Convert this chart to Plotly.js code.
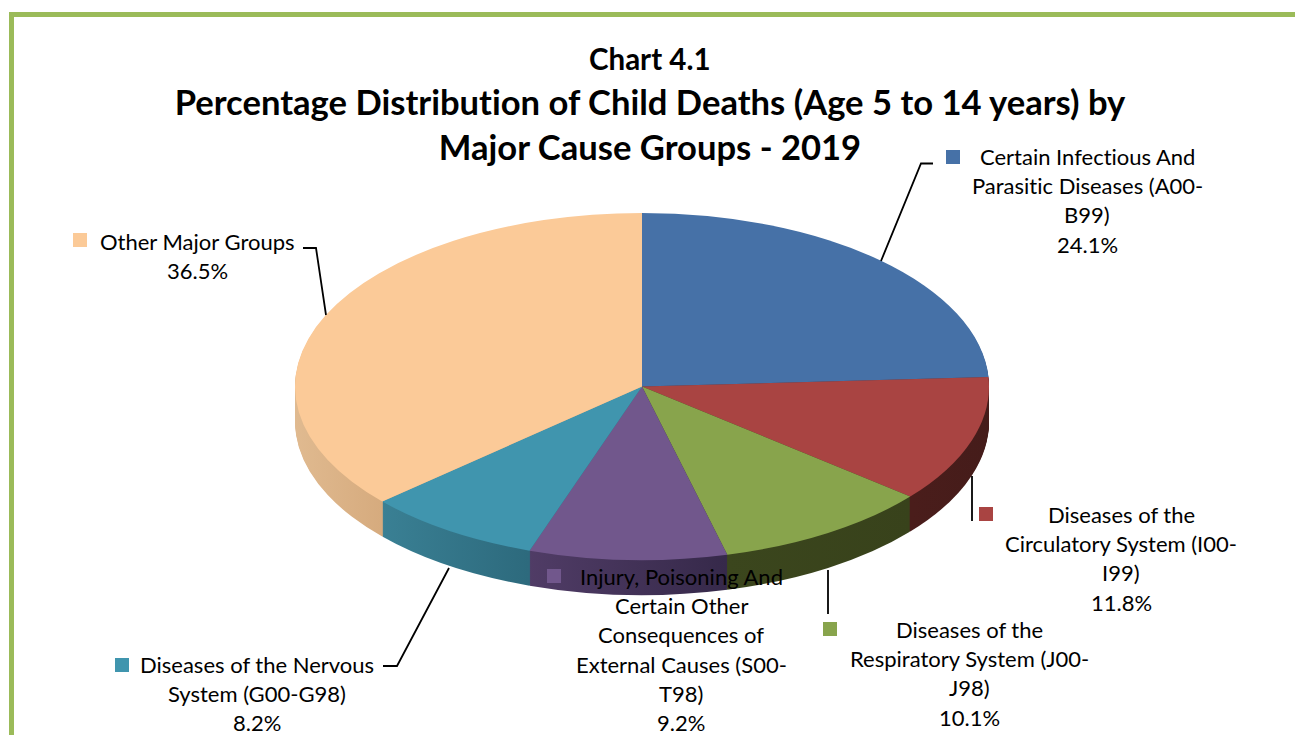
<!DOCTYPE html>
<html>
<head>
<meta charset="utf-8">
<script src="https://cdn.plot.ly/plotly-3.0.1.min.js"></script>
<style>html,body{margin:0;padding:0;background:#fff;overflow:hidden}#chart{width:1295px;height:735px}
svg text{font-variant-ligatures:none;font-feature-settings:"liga" 0}</style>
</head>
<body>
<div id="chart"></div>
<script>
// ---- data ----
const categories = [
  "Certain Infectious And Parasitic Diseases (A00-B99)",
  "Diseases of the Circulatory System (I00-I99)",
  "Diseases of the Respiratory System (J00-J98)",
  "Injury, Poisoning And Certain Other Consequences of External Causes (S00-T98)",
  "Diseases of the Nervous System (G00-G98)",
  "Other Major Groups"
];
const shares = [24.1, 11.8, 10.1, 9.2, 8.2, 36.5];
const wrappedNames = [
  ["Certain Infectious And", "Parasitic Diseases (A00-", "B99)"],
  ["Diseases of the", "Circulatory System (I00-", "I99)"],
  ["Diseases of the", "Respiratory System (J00-", "J98)"],
  ["Injury, Poisoning And", "Certain Other", "Consequences of", "External Causes (S00-", "T98)"],
  ["Diseases of the Nervous", "System (G00-G98)"],
  ["Other Major Groups"]
];
const titleLine = "Chart 4.1";
const titleMain = "Percentage Distribution of Child Deaths (Age 5 to 14 years) by<br>Major Cause Groups - 2019";

// ---- styles ----
const topColors = ["#4671a7", "#a94442", "#88a44c", "#71578c", "#4095ae", "#fbca98"];
const sideStops = [
  ["#2c4668", "#2c4668"],
  ["#4a1d1b", "#451c1a"],
  ["#3b461d", "#38421b"],
  ["#503c66", "#36294a"],
  ["#3a8094", "#2d6a7d"],
  ["#e0ba90", "#d6ab7e"]
];
const sideRange = [[0, 1], [0.89, 1], [0.62, 0.89], [0.336, 0.62], [0.124, 0.336], [0, 0.124]];
const FONT = "Lato, Carlito, Calibri, sans-serif";
const W = 1295, H = 735;
const CX = 642, CY = 386.5, RX = 347, SQUASH = 0.5, DEPTH = 35;

// label layout, in page pixels
const labelCenters = [1087, 1121, 969, 681, 257, 198];
const labelFirstY = [156.3, 514.3, 629.3, 576.3, 664.3, 241.3];
const LINE_STEP = 29.3;
const keyBoxes = [[946, 150], [979, 507], [823, 622], [547, 569], [115, 658], [73, 233]];
const KEY = 14;
const leaders = [
  [[933, 163.5], [921, 163.5], [881, 261]],
  [[972, 476], [972, 521]],
  [[828, 570], [828, 614]],
  [[449, 568], [397, 666], [383, 666]],
  [[303, 248], [316, 248], [326, 315]]
];

const px = x => x / W;
const py = y => 1 - y / H;

// ---- pie stack: the side wall is many darker copies of the same pie ----
const domain = {x: [px(CX - RX), px(CX + RX)], y: [(H / 2 - RX) / H, (H / 2 + RX) / H]};
const pieBase = {
  type: "pie", values: shares, labels: categories, sort: false, direction: "clockwise",
  rotation: 0, textinfo: "none", hoverinfo: "label+percent", showlegend: false, domain: domain
};
const offsets = [];
for (let d = DEPTH; d >= 0; d--) offsets.push(d);
const traces = offsets.map(d => Object.assign({}, pieBase, {
  marker: {colors: d === 0 ? topColors : sideStops.map(s => s[1]), line: {width: 0}}
}));

// ---- text ----
const annotations = [];
const textAt = (x, y, text, size, bold) => annotations.push({
  xref: "paper", yref: "paper", x: px(x), y: py(y), xanchor: "center", yanchor: "middle",
  text: bold ? "<b>" + text + "</b>" : text, showarrow: false,
  font: {family: FONT, size: size, color: "#000"}
});
textAt(650, 58, titleLine, 29.5, true);
wrappedNames.forEach((lines, i) => {
  const all = lines.concat([shares[i].toFixed(1) + "%"]);
  all.forEach((t, k) => textAt(labelCenters[i], labelFirstY[i] + k * LINE_STEP, t, 22, false));
});

// ---- frame, legend keys, leader lines ----
const shapes = [{
  type: "rect", xref: "paper", yref: "paper", x0: px(11.5), x1: px(1320), y0: py(14.5), y1: py(760),
  line: {color: "#9bbb59", width: 5}, fillcolor: "rgba(0,0,0,0)", layer: "above"
}];
keyBoxes.forEach((k, i) => shapes.push({
  type: "rect", xref: "paper", yref: "paper", x0: px(k[0]), x1: px(k[0] + KEY), y0: py(k[1]), y1: py(k[1] + KEY),
  fillcolor: topColors[i], line: {width: 0}, layer: "above"
}));
leaders.forEach(pts => shapes.push({
  type: "path", xref: "paper", yref: "paper",
  path: pts.map((p, j) => (j ? "L" : "M") + px(p[0]) + "," + py(p[1])).join(" "),
  line: {color: "#000", width: 1.8}, fillcolor: "rgba(0,0,0,0)", layer: "above"
}));

const layout = {
  width: W, height: H, margin: {l: 0, r: 0, t: 0, b: 0},
  paper_bgcolor: "#fff", plot_bgcolor: "#fff", showlegend: false,
  title: {
    text: "<b>" + titleMain + "</b>", x: 650 / W, xanchor: "center", y: py(115), yanchor: "middle",
    font: {family: FONT, size: 34.6, color: "#000"}
  },
  annotations: annotations, shapes: shapes
};

Plotly.newPlot("chart", traces, layout, {displayModeBar: false, staticPlot: true}).then(gd => {
  // tilt the round pies into an ellipse and drop each copy to build the wall
  const groups = gd.querySelectorAll(".pielayer g.trace");
  const svg = gd.querySelector(".main-svg");
  const defs = svg.querySelector("defs") || svg.insertBefore(document.createElementNS(svg.namespaceURI, "defs"), svg.firstChild);
  sideStops.forEach((s, i) => {
    const g = document.createElementNS(svg.namespaceURI, "linearGradient");
    g.setAttribute("id", "wall" + i);
    g.setAttribute("gradientUnits", "userSpaceOnUse");
    g.setAttribute("x1", CX - RX + 2 * RX * sideRange[i][0]);
    g.setAttribute("x2", CX - RX + 2 * RX * sideRange[i][1]);
    g.setAttribute("y1", 0); g.setAttribute("y2", 0);
    s.forEach((c, k) => {
      const st = document.createElementNS(svg.namespaceURI, "stop");
      st.setAttribute("offset", k);
      st.setAttribute("stop-color", c);
      g.appendChild(st);
    });
    defs.appendChild(g);
  });
  groups.forEach((el, n) => {
    const d = offsets[n];
    el.setAttribute("transform",
      "translate(0," + (CY + d) + ") scale(1," + SQUASH + ") translate(0," + (-H / 2) + ")");
    if (d > 0) {
      el.querySelectorAll("g.slice path.surface").forEach((p, i) => {
        p.style.fill = "url(#wall" + i + ")";
      });
    }
  });
});
</script>
</body>
</html>
